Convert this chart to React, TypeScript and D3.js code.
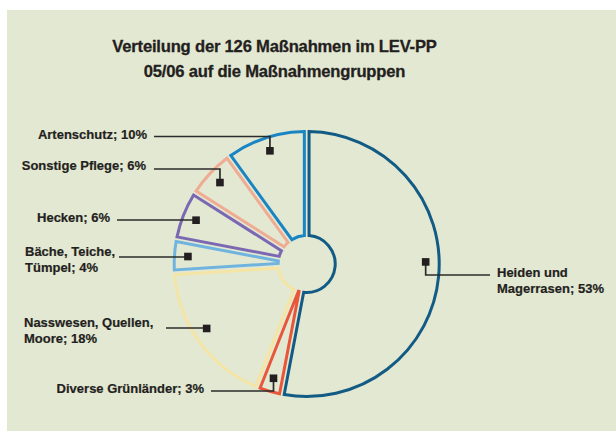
import React from "react";
import * as d3 from "d3";

const categories = [
  "Heiden und Magerrasen",
  "Diverse Grünländer",
  "Nasswesen, Quellen, Moore",
  "Bäche, Teiche, Tümpel",
  "Hecken",
  "Sonstige Pflege",
  "Artenschutz",
];
const values = [53, 3, 18, 4, 6, 6, 10];
const labelLines = [
  ["Heiden und", "Magerrasen; 53%"],
  ["Diverse Grünländer; 3%"],
  ["Nasswesen, Quellen,", "Moore; 18%"],
  ["Bäche, Teiche,", "Tümpel; 4%"],
  ["Hecken; 6%"],
  ["Sonstige Pflege; 6%"],
  ["Artenschutz; 10%"],
];
const titleLines = ["Verteilung der 126 Maßnahmen im LEV-PP", "05/06 auf die Maßnahmengruppen"];
const colors = ["#125b84", "#e8573b", "#f4e5a6", "#6fb4df", "#7a68b3", "#f0ab93", "#1a85c3"];

// layout (positions) for labels
const layout = [
  { anchor: "start", tx: 497, ty: [276.7, 293.3], lineY: 275, lineX: 490, dA: -6.4, fromMarker: true },
  { anchor: "end", tx: 204, ty: [392.7], lineY: 391, lineX: 211, dA: 0 },
  { anchor: "start", tx: 24, ty: [326.7, 342.7], lineY: 328, lineX: 166, dA: 3.2 },
  { anchor: "start", tx: 25, ty: [256, 271.7], lineY: 257, lineX: 119, dA: 0 },
  { anchor: "end", tx: 110, ty: [222], lineY: 220, lineX: 117, dA: 0 },
  { anchor: "end", tx: 146, ty: [170], lineY: 169, lineX: 154, dA: 0 },
  { anchor: "end", tx: 147, ty: [138.7], lineY: 136.5, lineX: 154, dA: 0 },
];

const W = 616;
const H = 431;
const cx = 306.7;
const cy = 264;
const rOuter = 132.5;
const rInner = 28.5;
const rMarker = 119;
const FONT = "'Liberation Sans', Arial, Helvetica, sans-serif";

export default function App() {
  const pie = d3.pie<number>().sort(null).value((d) => d);
  const arcs = pie(values);
  const arcGen = d3
    .arc<d3.PieArcDatum<number>>()
    .innerRadius(rInner)
    .outerRadius(rOuter)
    .padAngle(0.0347);

  return (
    <svg
      width={W}
      height={H}
      style={{ position: "absolute", left: 0, top: 0, display: "block" }}
      xmlns="http://www.w3.org/2000/svg"
    >
      <rect x={0} y={0} width={W} height={H} fill="#ffffff" />
      <rect x={7} y={10} width={W - 7} height={H - 10} fill="#e3e8d2" />
      {titleLines.map((t, i) => (
        <text
          key={i}
          x={274.5}
          y={51.5 + i * 25.5}
          textAnchor="middle"
          fontFamily={FONT}
          fontWeight="bold"
          fontSize={16.6}
          letterSpacing={-0.2}
          fill="#231f20"
          stroke="#231f20"
          strokeWidth={0.3}
        >
          {t}
        </text>
      ))}
      <g transform={`translate(${cx},${cy})`}>
        {arcs.map((a, i) => (
          <path
            key={categories[i]}
            d={arcGen(a) || ""}
            fill="none"
            stroke={colors[i]}
            strokeWidth={3}
            strokeLinejoin="miter"
          />
        ))}
      </g>
      {arcs.map((a, i) => {
        const L = layout[i];
        const ang = (a.startAngle + a.endAngle) / 2 + (L.dA * Math.PI) / 180;
        const mx = cx + rMarker * Math.sin(ang);
        const my = cy - rMarker * Math.cos(ang);
        const path = L.fromMarker
          ? `M${mx},${my}V${L.lineY}H${L.lineX}`
          : `M${L.lineX},${L.lineY}H${mx}V${my}`;
        return (
          <g key={"lbl" + i}>
            <path d={path} fill="none" stroke="#2b2b2b" strokeWidth={1.7} />
            <rect x={mx - 3.8} y={my - 3.8} width={7.6} height={7.6} fill="#231f20" />
            {labelLines[i].map((ln, j) => (
              <text
                key={j}
                x={L.tx}
                y={L.ty[j]}
                textAnchor={L.anchor as any}
                fontFamily={FONT}
                fontWeight="bold"
                fontSize={13}
                fill="#231f20"
                stroke="#231f20"
                strokeWidth={0.2}
              >
                {ln}
              </text>
            ))}
          </g>
        );
      })}
    </svg>
  );
}
